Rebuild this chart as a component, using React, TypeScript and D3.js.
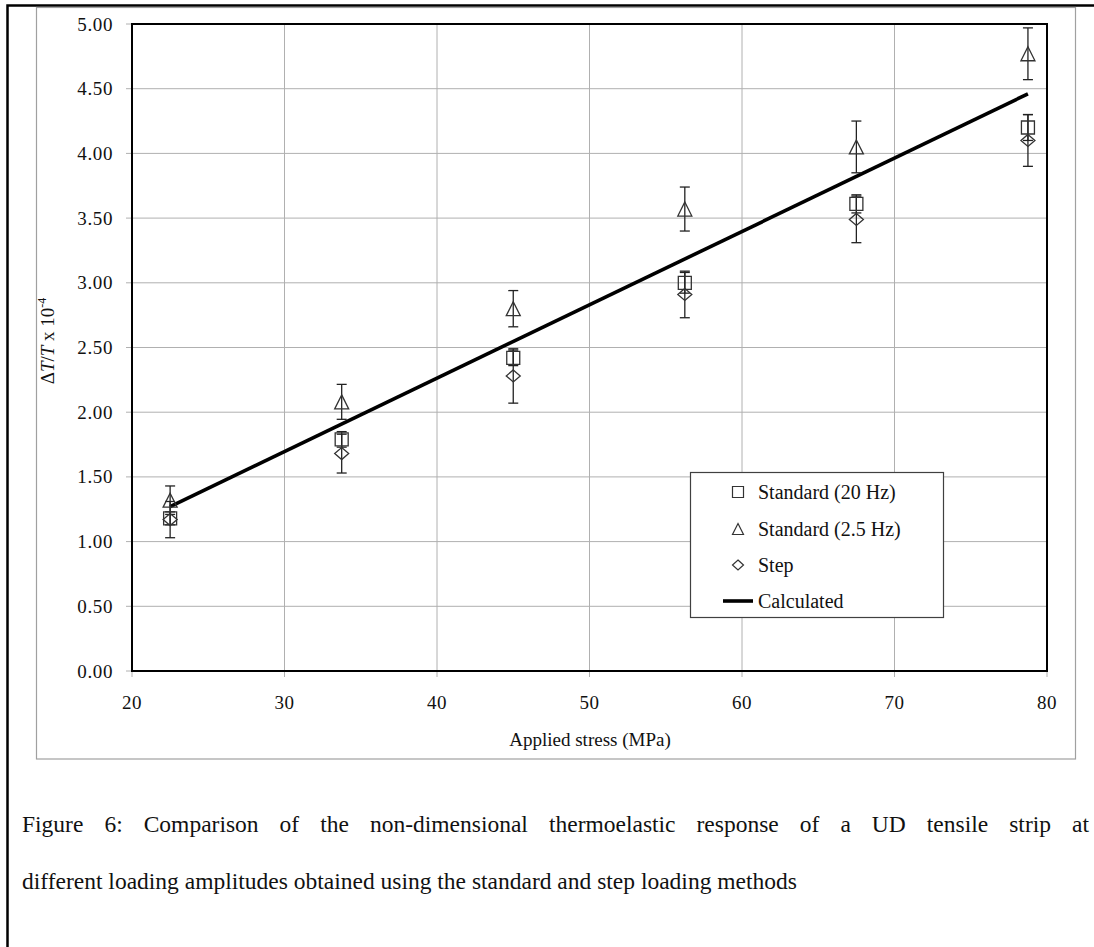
import * as d3 from 'd3';
import React, { useEffect, useRef } from 'react';

// applied stress (MPa) and dT/T x 10^-4 for each method
const stress = [22.5, 33.75, 45, 56.25, 67.5, 78.75];
const std20 = [1.18, 1.79, 2.42, 3.0, 3.61, 4.2];
const std20Err = [0.05, 0.06, 0.06, 0.08, 0.07, 0.1];
const std25 = [1.32, 2.08, 2.8, 3.57, 4.05, 4.77];
const std25Err = [0.11, 0.135, 0.14, 0.17, 0.2, 0.2];
const step = [1.17, 1.68, 2.28, 2.91, 3.49, 4.1];
const stepErr = [0.14, 0.15, 0.21, 0.18, 0.18, 0.2];
const calcX = [22.5, 78.75];
const calcY = [1.27, 4.46];

const xTicks = [20, 30, 40, 50, 60, 70, 80];
const yTicks = [0, 0.5, 1, 1.5, 2, 2.5, 3, 3.5, 4, 4.5, 5];
const legendLabels = ['Standard (20 Hz)', 'Standard (2.5 Hz)', 'Step', 'Calculated'];
const caption1 = 'Figure 6: Comparison of the non-dimensional thermoelastic response of a UD tensile strip at';
const caption2 = 'different loading amplitudes obtained using the standard and step loading methods';

const W = 1094, H = 947;
const serif = '"Liberation Serif", "Times New Roman", serif';

export default function App() {
  const ref = useRef<SVGSVGElement>(null);

  useEffect(() => {
    const svg = d3.select(ref.current);
    svg.selectAll('*').remove();

    const x = d3.scaleLinear().domain([20, 80]).range([132, 1047]);
    const y = d3.scaleLinear().domain([0, 5]).range([671, 24]);

    // page frame
    svg.append('path').attr('d', `M7.5,${H} V5.5 H${W}`)
      .attr('fill', 'none').attr('stroke', '#000').attr('stroke-width', 2.5);

    // chart area border
    svg.append('rect').attr('x', 36.5).attr('y', 7.5).attr('width', 1039).attr('height', 751.5)
      .attr('fill', '#fff').attr('stroke', '#a0a0a0').attr('stroke-width', 1.2);

    // grid
    const grid = svg.append('g').attr('stroke', '#b0b0b0').attr('stroke-width', 1);
    xTicks.forEach(t => grid.append('line').attr('x1', x(t)).attr('x2', x(t)).attr('y1', 24).attr('y2', 677));
    yTicks.forEach(t => grid.append('line').attr('x1', 126).attr('x2', 1047).attr('y1', y(t)).attr('y2', y(t)));

    // plot border
    svg.append('rect').attr('x', 132).attr('y', 24).attr('width', 915).attr('height', 647)
      .attr('fill', 'none').attr('stroke', '#000').attr('stroke-width', 2);

    // tick labels
    svg.append('g').selectAll('text').data(yTicks).enter().append('text')
      .attr('x', 113).attr('y', d => y(d) + 6.5).attr('text-anchor', 'end')
      .attr('font-family', serif).attr('font-size', 19).attr('letter-spacing', 0.6)
      .attr('fill', '#111').text(d => d.toFixed(2));
    svg.append('g').selectAll('text').data(xTicks).enter().append('text')
      .attr('x', d => x(d)).attr('y', 709).attr('text-anchor', 'middle')
      .attr('font-family', serif).attr('font-size', 19).attr('letter-spacing', 0.6)
      .attr('fill', '#111').text(d => d);

    // axis titles
    svg.append('text').attr('x', 590).attr('y', 746).attr('text-anchor', 'middle')
      .attr('font-family', serif).attr('font-size', 19).attr('fill', '#111')
      .text('Applied stress (MPa)');
    const yl = svg.append('text').attr('transform', 'translate(54,341) rotate(-90)')
      .attr('text-anchor', 'middle').attr('font-family', serif).attr('font-size', 19).attr('fill', '#111');
    yl.append('tspan').text('\u0394');
    yl.append('tspan').attr('font-style', 'italic').text('T');
    yl.append('tspan').text('/');
    yl.append('tspan').attr('font-style', 'italic').text('T');
    yl.append('tspan').text(' x 10');
    yl.append('tspan').attr('font-size', 12).attr('dy', -8).text('-4');

    // calculated line
    const line = d3.line<number>().x((d, i) => x(calcX[i])).y(d => y(d));
    svg.append('path').attr('d', line(calcY)).attr('fill', 'none')
      .attr('stroke', '#000').attr('stroke-width', 3.6);

    const errBars = (vals: number[], errs: number[]) => {
      const g = svg.append('g').attr('stroke', '#222').attr('stroke-width', 1.3);
      vals.forEach((v, i) => {
        const cx = x(stress[i]);
        g.append('line').attr('x1', cx).attr('x2', cx).attr('y1', y(v - errs[i])).attr('y2', y(v + errs[i]));
        [v - errs[i], v + errs[i]].forEach(e =>
          g.append('line').attr('x1', cx - 5).attr('x2', cx + 5).attr('y1', y(e)).attr('y2', y(e)));
      });
    };
    errBars(step, stepErr);
    errBars(std25, std25Err);
    errBars(std20, std20Err);

    const square = (s: number) => `M${-s / 2},${-s / 2}h${s}v${s}h${-s}Z`;
    const triangle = (s: number) => `M0,${-s / 2}L${s / 2},${s / 2}L${-s / 2},${s / 2}Z`;
    const diamond = (s: number, h: number) => `M0,${-h / 2}L${s / 2},0L0,${h / 2}L${-s / 2},0Z`;

    const markers = (vals: number[], d: string) => {
      svg.append('g').selectAll('path').data(vals).enter().append('path')
        .attr('d', d).attr('transform', (v, i) => `translate(${x(stress[i])},${y(v)})`)
        .attr('fill', 'none').attr('stroke', '#333').attr('stroke-width', 1.3);
    };
    markers(step, diamond(14, 12));
    markers(std25, triangle(14));
    markers(std20, square(13));

    // legend
    const lg = svg.append('g');
    lg.append('rect').attr('x', 690.5).attr('y', 472.5).attr('width', 253).attr('height', 145)
      .attr('fill', '#fff').attr('stroke', '#404040').attr('stroke-width', 1.2);
    const ly = [492, 529, 565, 601];
    const legendMarks = [square(11), triangle(11), diamond(11, 10)];
    legendMarks.forEach((d, i) => lg.append('path').attr('d', d)
      .attr('transform', `translate(738,${ly[i]})`).attr('fill', 'none')
      .attr('stroke', '#333').attr('stroke-width', 1.2));
    lg.append('line').attr('x1', 723).attr('x2', 753).attr('y1', ly[3]).attr('y2', ly[3])
      .attr('stroke', '#000').attr('stroke-width', 3.6);
    legendLabels.forEach((t, i) => lg.append('text').attr('x', 758).attr('y', ly[i] + 7)
      .attr('font-family', serif).attr('font-size', 20).attr('fill', '#111').text(t));

    // caption, first line justified
    const c1 = svg.append('text').attr('x', 22).attr('y', 832)
      .attr('font-family', serif).attr('font-size', 23.5).attr('fill', '#111').text(caption1);
    const natural = (c1.node() as SVGTextElement).getComputedTextLength();
    const spaces = caption1.split(' ').length - 1;
    c1.attr('word-spacing', Math.max(0, (1089 - 22 - natural) / spaces));
    svg.append('text').attr('x', 22).attr('y', 889)
      .attr('font-family', serif).attr('font-size', 23.5).attr('fill', '#111').text(caption2);
  }, []);

  return (
    <svg ref={ref} width={W} height={H}
      style={{ position: 'absolute', left: 0, top: 0, background: '#fff' }} />
  );
}
